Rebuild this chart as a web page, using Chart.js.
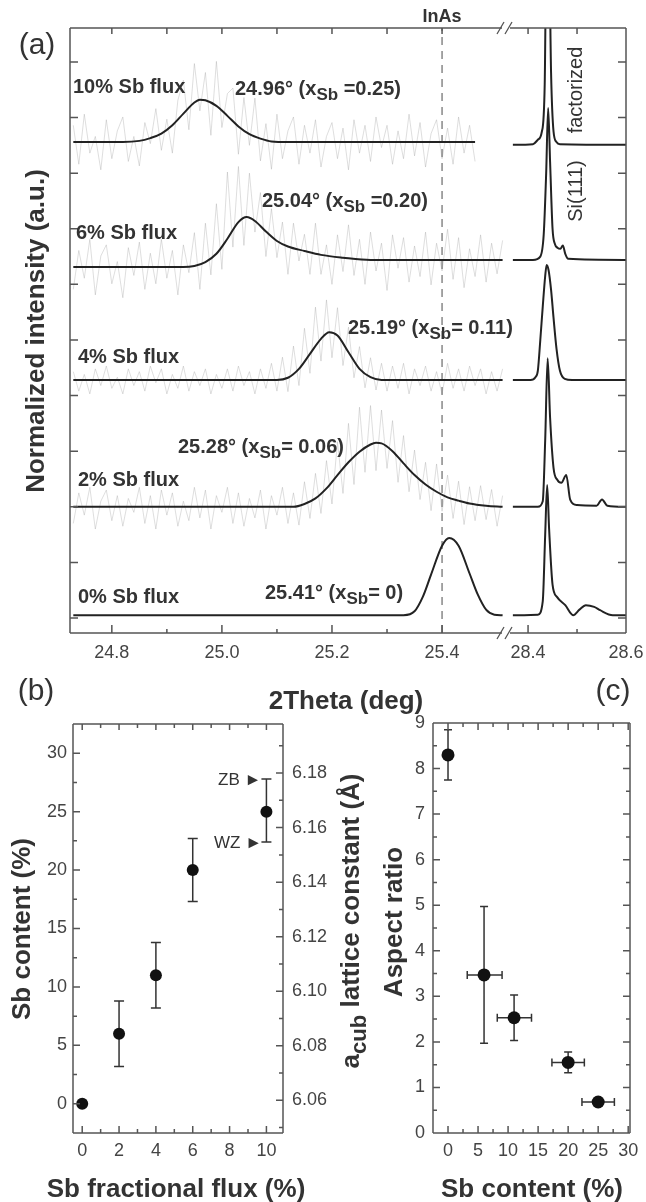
<!DOCTYPE html>
<html>
<head>
<meta charset="utf-8">
<script src="https://cdn.jsdelivr.net/npm/chart.js@4.4.1/dist/chart.umd.min.js"></script>
<style>
  body { margin: 0; background: #fff; }
  #fig { position: relative; width: 646px; height: 1202px; overflow: hidden;
         font-family: "Liberation Sans", Arial, sans-serif; color: #333; }
  canvas { position: absolute; }
  .t { position: absolute; white-space: nowrap; line-height: 1; }
  .lab { font-size: 20px; font-weight: bold; transform: translateY(-50%); }
  .ctr { transform: translate(-50%, -50%); }
  .rot { transform: translate(-50%, -50%) rotate(-90deg); }
  .title { font-size: 26px; font-weight: bold; }
  .pan { font-size: 30px; }
  sub { font-size: 0.85em; vertical-align: -0.3em; line-height: 0; }
</style>
</head>
<body>
<div id="fig">
  <canvas id="a1" width="520" height="680" style="left:0;top:0"></canvas>
  <canvas id="a2" width="156" height="680" style="left:490px;top:0"></canvas>
  <canvas id="pb" width="370" height="512" style="left:0;top:690px"></canvas>
  <canvas id="pc" width="276" height="512" style="left:370px;top:690px"></canvas>

  <div class="t pan ctr" style="left:37px;top:44px">(a)</div>
  <div class="t ctr" style="left:442px;top:16px;font-size:18px;font-weight:bold">InAs</div>
  <div class="t rot" style="left:575px;top:90px;font-size:20px">factorized</div>
  <div class="t rot" style="left:575px;top:191px;font-size:20px">Si(111)</div>
  <div class="t title rot" style="left:35px;top:331px">Normalized intensity (a.u.)</div>
  <div class="t title ctr" style="left:346px;top:700px">2Theta (deg)</div>

  <div class="t lab" style="left:73px;top:86px">10% Sb flux</div>
  <div class="t lab" style="left:235px;top:88px">24.96° (x<sub>Sb</sub> =0.25)</div>
  <div class="t lab" style="left:76px;top:232px">6% Sb flux</div>
  <div class="t lab" style="left:262px;top:200px">25.04° (x<sub>Sb</sub> =0.20)</div>
  <div class="t lab" style="left:78px;top:356px">4% Sb flux</div>
  <div class="t lab" style="left:348px;top:327px">25.19° (x<sub>Sb</sub>= 0.11)</div>
  <div class="t lab" style="left:78px;top:479px">2% Sb flux</div>
  <div class="t lab" style="left:178px;top:446px">25.28° (x<sub>Sb</sub>= 0.06)</div>
  <div class="t lab" style="left:78px;top:596px">0% Sb flux</div>
  <div class="t lab" style="left:265px;top:592px">25.41° (x<sub>Sb</sub>= 0)</div>

  <div class="t pan ctr" style="left:36px;top:690px">(b)</div>
  <div class="t pan ctr" style="left:613px;top:690px">(c)</div>
  <div class="t title rot" style="left:21px;top:929px">Sb content (%)</div>
  <div class="t title rot" style="left:350px;top:921px">a<sub>cub</sub> lattice constant (Å)</div>
  <div class="t title rot" style="left:393px;top:922px">Aspect ratio</div>
  <div class="t title ctr" style="left:176px;top:1188px">Sb fractional flux (%)</div>
  <div class="t title ctr" style="left:532px;top:1188px">Sb content (%)</div>
  <div class="t" style="left:218px;top:779px;font-size:17px;transform:translateY(-50%)">ZB ►</div>
  <div class="t" style="left:214px;top:842px;font-size:17px;transform:translateY(-50%)">WZ ►</div>
</div>

<script>
// ---- panel (a): fitted curves, left segment (2theta in deg, intensity in offset units)
const fit10X = [24.73, 24.82, 24.85, 24.87, 24.89, 24.91, 24.93, 24.95, 24.96, 24.97, 24.99, 25.01, 25.03, 25.05, 25.07, 25.09, 25.12, 25.46];
const fit10Y = [8.56, 8.56, 8.58, 8.63, 8.71, 8.86, 9.07, 9.27, 9.32, 9.31, 9.21, 9.03, 8.84, 8.70, 8.62, 8.57, 8.56, 8.56];
const fit6X = [24.73, 24.93, 24.95, 24.97, 24.99, 25.01, 25.03, 25.045, 25.06, 25.08, 25.10, 25.12, 25.15, 25.18, 25.22, 25.27, 25.51];
const fit6Y = [6.31, 6.31, 6.33, 6.40, 6.55, 6.82, 7.12, 7.21, 7.14, 6.95, 6.78, 6.68, 6.60, 6.53, 6.48, 6.44, 6.44];
const fit4X = [24.73, 25.10, 25.12, 25.14, 25.16, 25.18, 25.195, 25.21, 25.23, 25.25, 25.27, 25.29, 25.51];
const fit4Y = [4.28, 4.28, 4.32, 4.48, 4.75, 5.02, 5.14, 5.08, 4.78, 4.48, 4.33, 4.28, 4.28];
const fit2X = [24.73, 25.13, 25.15, 25.17, 25.19, 25.21, 25.23, 25.25, 25.27, 25.28, 25.29, 25.31, 25.33, 25.35, 25.37, 25.39, 25.41, 25.43, 25.45, 25.48, 25.51];
const fit2Y = [2.0, 2.0, 2.05, 2.15, 2.33, 2.57, 2.80, 2.99, 3.12, 3.15, 3.14, 3.00, 2.78, 2.57, 2.40, 2.27, 2.17, 2.11, 2.06, 2.02, 2.0];
const fit0X = [24.73, 25.33, 25.35, 25.365, 25.38, 25.40, 25.413, 25.43, 25.45, 25.465, 25.48, 25.495, 25.51];
const fit0Y = [0.05, 0.05, 0.12, 0.38, 0.78, 1.3, 1.44, 1.3, 0.8, 0.42, 0.15, 0.06, 0.05];

// ---- panel (a): raw scans (grey)
const rawX = [24.73, 24.74, 24.75, 24.76, 24.77, 24.78, 24.79, 24.80, 24.81, 24.82,
  24.83, 24.84, 24.85, 24.86, 24.87, 24.88, 24.89, 24.90, 24.91, 24.92,
  24.93, 24.94, 24.95, 24.96, 24.97, 24.98, 24.99, 25.00, 25.01, 25.02,
  25.03, 25.04, 25.05, 25.06, 25.07, 25.08, 25.09, 25.10, 25.11, 25.12,
  25.13, 25.14, 25.15, 25.16, 25.17, 25.18, 25.19, 25.20, 25.21, 25.22,
  25.23, 25.24, 25.25, 25.26, 25.27, 25.28, 25.29, 25.30, 25.31, 25.32,
  25.33, 25.34, 25.35, 25.36, 25.37, 25.38, 25.39, 25.40, 25.41, 25.42,
  25.43, 25.44, 25.45, 25.46, 25.47, 25.48, 25.49, 25.50, 25.51];
const raw10 = [8.86, 8.16, 9.06, 8.36, 8.66, 8.06, 8.96, 8.26, 8.76, 9.01,
  8.21, 8.66, 8.13, 8.91, 8.53, 9.16, 8.41, 8.97, 8.36, 9.31,
  9.67, 8.78, 9.97, 9.12, 9.81, 8.68, 10.01, 8.82, 9.43, 9.53,
  8.34, 9.36, 8.50, 9.35, 8.22, 8.89, 8.07, 9.06, 8.26, 8.76,
  9.01, 8.16, 8.86, 8.36, 8.96, 8.11, 8.66, 8.91, 8.26, 8.81,
  8.06, 8.96, 8.36, 8.86, 8.21, 9.01, 8.46, 8.86, 8.16, 8.76,
  8.26, 9.06, 8.31, 8.91, 8.11, 8.71, 8.96, 8.26, 8.81, 8.16,
  9.01, 8.36, 8.86, 8.21];
const raw6 = [5.91, 6.61, 6.11, 6.81, 5.81, 6.51, 6.71, 6.01, 6.41, 5.76,
  6.66, 6.16, 6.76, 5.91, 6.56, 6.01, 6.81, 6.11, 6.61, 5.81,
  6.71, 6.21, 6.93, 5.91, 7.10, 6.17, 7.45, 6.27, 8.02, 6.67,
  8.12, 6.70, 8.00, 6.94, 7.65, 6.50, 7.36, 6.48, 7.12, 6.18,
  7.10, 6.42, 6.90, 6.18, 7.10, 6.18, 6.71, 6.00, 6.89, 6.23,
  7.07, 6.16, 6.81, 6.00, 6.94, 6.24, 6.74, 5.89, 6.89, 6.29,
  6.84, 6.04, 6.69, 6.14, 6.94, 5.99, 6.74, 6.24, 6.99, 6.09,
  6.84, 5.94, 6.64, 6.14, 6.89, 6.04, 6.74, 6.19, 6.79];
const raw4 = [4.43, 4.08, 4.38, 4.03, 4.48, 4.18, 4.53, 4.13, 4.33, 4.03,
  4.48, 4.18, 4.43, 4.08, 4.53, 4.23, 4.48, 4.03, 4.38, 4.13,
  4.53, 4.08, 4.43, 4.18, 4.48, 4.03, 4.38, 4.13, 4.48, 4.08,
  4.53, 4.18, 4.43, 4.03, 4.48, 4.13, 4.58, 4.08, 4.69, 4.07,
  4.89, 4.18, 5.21, 4.40, 5.59, 4.62, 5.72, 4.68, 5.58, 4.54,
  5.23, 4.32, 4.88, 4.14, 4.68, 4.10, 4.58, 4.08, 4.53, 4.13,
  4.58, 4.03, 4.48, 4.18, 4.53, 4.08, 4.43, 4.03, 4.58, 4.13,
  4.48, 4.08, 4.53, 4.18, 4.48, 4.03, 4.43, 4.08, 4.48];
const raw2 = [1.70, 2.25, 1.85, 2.35, 1.60, 2.10, 2.30, 1.75, 2.20, 1.65,
  2.15, 1.90, 2.35, 1.70, 2.20, 1.60, 2.30, 1.85, 2.25, 1.65,
  2.10, 1.75, 2.35, 1.80, 2.30, 1.60, 2.20, 1.90, 2.35, 1.70,
  2.25, 1.65, 2.15, 1.80, 2.30, 1.60, 2.20, 1.85, 2.35, 1.70,
  2.25, 1.67, 2.45, 1.79, 2.60, 1.88, 2.83, 2.05, 3.17, 2.24,
  3.50, 2.40, 3.79, 2.62, 3.82, 2.65, 3.74, 2.69, 3.55, 2.44,
  3.28, 2.27, 3.02, 2.13, 2.80, 1.93, 2.77, 1.92, 2.57, 1.79,
  2.46, 1.68, 2.36, 1.75, 2.38, 1.77, 2.31, 1.65, 2.20];

// ---- panel (a): Si(111) segment
const si10X = [28.369, 28.41, 28.42, 28.428, 28.434, 28.438, 28.442, 28.447, 28.452, 28.458, 28.465, 28.6];
const si10Y = [8.51, 8.52, 8.6, 8.74, 9.6, 12.5, 12.5, 9.8, 8.75, 8.56, 8.52, 8.51];
const si6X = [28.369, 28.41, 28.425, 28.432, 28.437, 28.441, 28.445, 28.45, 28.455, 28.46, 28.466, 28.471, 28.476, 28.482, 28.6];
const si6Y = [6.44, 6.44, 6.5, 6.9, 8.0, 9.17, 8.2, 7.0, 6.72, 6.66, 6.64, 6.7, 6.55, 6.46, 6.44];
const si4X = [28.369, 28.405, 28.415, 28.42, 28.425, 28.43, 28.435, 28.438, 28.442, 28.447, 28.452, 28.458, 28.465, 28.475, 28.49, 28.6];
const si4Y = [4.28, 4.28, 4.33, 4.45, 5.0, 5.6, 6.15, 6.35, 6.25, 5.9, 5.4, 4.85, 4.45, 4.3, 4.28, 4.28];
const si2X = [28.369, 28.42, 28.43, 28.435, 28.44, 28.445, 28.452, 28.46, 28.468, 28.478, 28.486, 28.5, 28.54, 28.551, 28.562, 28.6];
const si2Y = [2.0, 2.0, 2.1, 3.2, 4.67, 3.6, 2.7, 2.48, 2.43, 2.57, 2.13, 2.03, 2.02, 2.13, 2.02, 2.0];
const si0X = [28.369, 28.42, 28.43, 28.435, 28.439, 28.443, 28.45, 28.459, 28.476, 28.492, 28.505, 28.518, 28.535, 28.547, 28.573, 28.6];
const si0Y = [0.05, 0.06, 0.3, 1.5, 2.39, 1.6, 0.6, 0.38, 0.23, 0.05, 0.15, 0.23, 0.2, 0.14, 0.05, 0.05];

const inasPos = 25.4;
const aTicksLeft = [24.8, 25.0, 25.2, 25.4];
const aMinorLeft = [24.9, 25.1, 25.3];
const aTopLeft = [24.8, 24.9, 25.0, 25.1, 25.2, 25.3, 25.4];
const aTicksRight = [28.4, 28.6];
const aMinorRight = [28.5];
const aYTicks = [0, 1, 2, 3, 4, 5, 6, 7, 8, 9, 10];

// ---- panel (b)
const bFlux = [0, 2, 4, 6, 10];
const bSb = [0, 6, 11, 20, 25];
const bSbLo = [null, 3.2, 8.2, 17.3, 22.4];
const bSbHi = [null, 8.8, 13.8, 22.7, 27.8];
const bXTicks = [0, 2, 4, 6, 8, 10];
const bXMinor = [1, 3, 5, 7, 9];
const bYTicks = [0, 5, 10, 15, 20, 25, 30];
const bYMinor = [-2.5, 2.5, 7.5, 12.5, 17.5, 22.5, 27.5, 32.5];
const bY2Ticks = [6.06, 6.08, 6.10, 6.12, 6.14, 6.16, 6.18];
const bY2Minor = [6.05, 6.07, 6.09, 6.11, 6.13, 6.15, 6.17, 6.19];

// ---- panel (c)
const cSb = [0, 6, 11, 20, 25];
const cRatio = [8.3, 3.47, 2.53, 1.55, 0.68];
const cRatioLo = [7.75, 1.97, 2.03, 1.32, null];
const cRatioHi = [8.85, 4.97, 3.03, 1.78, null];
const cSbLo = [null, 3.2, 8.2, 17.3, 22.3];
const cSbHi = [null, 9.0, 13.9, 22.7, 27.7];
const cXTicks = [0, 5, 10, 15, 20, 25, 30];
const cXMinor = [2.5, 7.5, 12.5, 17.5, 22.5, 27.5];
const cYTicks = [0, 1, 2, 3, 4, 5, 6, 7, 8, 9];
const cYMinor = [0.5, 1.5, 2.5, 3.5, 4.5, 5.5, 6.5, 7.5, 8.5];

const FONT = "'Liberation Sans', Arial, sans-serif";
const tickFont = { family: FONT, size: 18 };
const zip = (xs, ys) => xs.map((x, i) => ({ x, y: ys[i] }));

// frame box + inward tick marks drawn through the chart scales
const frameTicks = {
  id: 'frameTicks',
  afterDatasetsDraw(chart, args, o) {
    const { ctx, chartArea: a } = chart;
    ctx.save();
    ctx.strokeStyle = '#555';
    ctx.lineWidth = 1.5;
    ctx.beginPath();
    if (o.sides.includes('top')) { ctx.moveTo(a.left, a.top); ctx.lineTo(a.right, a.top); }
    if (o.sides.includes('bottom')) { ctx.moveTo(a.left, a.bottom); ctx.lineTo(a.right, a.bottom); }
    if (o.sides.includes('left')) { ctx.moveTo(a.left, a.top); ctx.lineTo(a.left, a.bottom); }
    if (o.sides.includes('right')) { ctx.moveTo(a.right, a.top); ctx.lineTo(a.right, a.bottom); }
    (o.marks || []).forEach(m => {
      const s = chart.scales[m.scale];
      m.values.forEach(v => {
        const p = s.getPixelForValue(v);
        if (m.side === 'bottom') { ctx.moveTo(p, a.bottom); ctx.lineTo(p, a.bottom - m.len); }
        if (m.side === 'top') { ctx.moveTo(p, a.top); ctx.lineTo(p, a.top + m.len); }
        if (m.side === 'left') { ctx.moveTo(a.left, p); ctx.lineTo(a.left + m.len, p); }
        if (m.side === 'right') { ctx.moveTo(a.right, p); ctx.lineTo(a.right - m.len, p); }
      });
    });
    ctx.stroke();
    ctx.restore();
  }
};

const errorBars = {
  id: 'errorBars',
  beforeDatasetsDraw(chart, args, o) {
    const { ctx } = chart;
    const xs = chart.scales.x, ys = chart.scales.y;
    ctx.save();
    ctx.strokeStyle = '#333';
    ctx.lineWidth = 1.5;
    ctx.beginPath();
    o.x.forEach((xv, i) => {
      const px = xs.getPixelForValue(xv), py = ys.getPixelForValue(o.y[i]);
      if (o.yLo && o.yLo[i] != null) {
        const p1 = ys.getPixelForValue(o.yLo[i]), p2 = ys.getPixelForValue(o.yHi[i]);
        ctx.moveTo(px, p1); ctx.lineTo(px, p2);
        ctx.moveTo(px - o.cap, p1); ctx.lineTo(px + o.cap, p1);
        ctx.moveTo(px - o.cap, p2); ctx.lineTo(px + o.cap, p2);
      }
      if (o.xLo && o.xLo[i] != null) {
        const q1 = xs.getPixelForValue(o.xLo[i]), q2 = xs.getPixelForValue(o.xHi[i]);
        ctx.moveTo(q1, py); ctx.lineTo(q2, py);
        ctx.moveTo(q1, py - o.cap); ctx.lineTo(q1, py + o.cap);
        ctx.moveTo(q2, py - o.cap); ctx.lineTo(q2, py + o.cap);
      }
    });
    ctx.stroke();
    ctx.restore();
  }
};

// "//" marks where the 2theta axis is broken
const axisBreak = {
  id: 'axisBreak',
  afterDraw(chart) {
    const { ctx, chartArea: a } = chart;
    const x = a.left;
    ctx.save();
    [a.top, a.bottom].forEach(y => {
      ctx.fillStyle = '#fff';
      ctx.fillRect(x - 5, y - 3, 8, 6);
      ctx.strokeStyle = '#555';
      ctx.lineWidth = 1.3;
      ctx.beginPath();
      ctx.moveTo(x - 10, y + 6); ctx.lineTo(x - 3, y - 6);
      ctx.moveTo(x - 2, y + 6); ctx.lineTo(x + 5, y - 6);
      ctx.stroke();
    });
    ctx.restore();
  }
};

const fixTicks = arr => s => { s.ticks = arr.map(v => ({ value: v })); };
const fitBox = (w, h) => s => {
  if (w != null) s.width = w;
  if (h != null) s.height = h;
  s.paddingLeft = 0; s.paddingRight = 0; s.paddingTop = 0; s.paddingBottom = 0;
};
const noGrid = { display: false, drawTicks: false };
const noBorder = { display: false };

const fitStyle = { borderColor: '#222', borderWidth: 2, pointRadius: 0, cubicInterpolationMode: 'monotone', fill: false };
const rawStyle = { borderColor: 'rgba(160,160,160,0.35)', borderWidth: 1, pointRadius: 0, tension: 0, fill: false };

const baseOpts = {
  responsive: false,
  animation: false,
  devicePixelRatio: 1,
  events: [],
};

// ---- (a) left segment
new Chart(document.getElementById('a1'), {
  type: 'line',
  data: {
    datasets: [
      { ...fitStyle, data: zip(fit10X, fit10Y) },
      { ...fitStyle, data: zip(fit6X, fit6Y) },
      { ...fitStyle, data: zip(fit4X, fit4Y) },
      { ...fitStyle, data: zip(fit2X, fit2Y) },
      { ...fitStyle, data: zip(fit0X, fit0Y) },
      { borderColor: '#888', borderWidth: 1.5, borderDash: [8, 6], pointRadius: 0,
        data: [{ x: inasPos, y: -0.27 }, { x: inasPos, y: 10.61 }] },
      { ...rawStyle, data: zip(rawX.slice(0, raw10.length), raw10) },
      { ...rawStyle, data: zip(rawX, raw6) },
      { ...rawStyle, data: zip(rawX, raw4) },
      { ...rawStyle, data: zip(rawX, raw2) },
    ]
  },
  options: {
    ...baseOpts,
    layout: { padding: { top: 28, right: 13, left: 0, bottom: 0 } },
    plugins: {
      legend: { display: false }, tooltip: { enabled: false },
      frameTicks: {
        sides: ['top', 'bottom', 'left'],
        marks: [
          { scale: 'x', side: 'bottom', values: aTicksLeft, len: 8 },
          { scale: 'x', side: 'bottom', values: aMinorLeft, len: 4 },
          { scale: 'x', side: 'top', values: aTopLeft, len: 6 },
          { scale: 'y', side: 'left', values: aYTicks, len: 8 },
        ]
      }
    },
    scales: {
      x: {
        type: 'linear', min: 24.724, max: 25.518,
        grid: noGrid, border: noBorder,
        ticks: { font: tickFont, color: '#444', padding: 9, callback: v => v.toFixed(1) },
        afterBuildTicks: fixTicks(aTicksLeft),
        afterFit: fitBox(null, 47)
      },
      y: {
        type: 'linear', min: -0.27, max: 10.61,
        grid: noGrid, border: noBorder, ticks: { display: false },
        afterFit: fitBox(70, null)
      }
    }
  },
  plugins: [frameTicks]
});

// ---- (a) right segment, Si(111)
new Chart(document.getElementById('a2'), {
  type: 'line',
  data: {
    datasets: [
      { ...fitStyle, data: zip(si10X, si10Y) },
      { ...fitStyle, data: zip(si6X, si6Y) },
      { ...fitStyle, data: zip(si4X, si4Y) },
      { ...fitStyle, data: zip(si2X, si2Y) },
      { ...fitStyle, data: zip(si0X, si0Y) },
    ]
  },
  options: {
    ...baseOpts,
    layout: { padding: { top: 28, right: 20, left: 17, bottom: 0 } },
    plugins: {
      legend: { display: false }, tooltip: { enabled: false },
      frameTicks: {
        sides: ['top', 'bottom', 'right'],
        marks: [
          { scale: 'x', side: 'bottom', values: aTicksRight, len: 8 },
          { scale: 'x', side: 'bottom', values: aMinorRight, len: 4 },
          { scale: 'x', side: 'top', values: [28.4, 28.5], len: 6 },
          { scale: 'y', side: 'right', values: aYTicks, len: 8 },
        ]
      }
    },
    scales: {
      x: {
        type: 'linear', min: 28.357, max: 28.6,
        grid: noGrid, border: noBorder,
        ticks: { font: tickFont, color: '#444', padding: 9, callback: v => v.toFixed(1) },
        afterBuildTicks: fixTicks(aTicksRight),
        afterFit: fitBox(null, 47)
      },
      y: { type: 'linear', min: -0.27, max: 10.61, display: false }
    }
  },
  plugins: [frameTicks, axisBreak]
});

// ---- (b) Sb content vs flux
new Chart(document.getElementById('pb'), {
  type: 'scatter',
  data: {
    datasets: [{ data: zip(bFlux, bSb), pointRadius: 6, pointBackgroundColor: '#111', pointBorderWidth: 0, yAxisID: 'y' }]
  },
  options: {
    ...baseOpts,
    layout: { padding: { top: 34, right: 0, left: 0, bottom: 0 } },
    plugins: {
      legend: { display: false }, tooltip: { enabled: false },
      errorBars: { x: bFlux, y: bSb, yLo: bSbLo, yHi: bSbHi, cap: 5 },
      frameTicks: {
        sides: ['top', 'bottom', 'left', 'right'],
        marks: [
          { scale: 'x', side: 'bottom', values: bXTicks, len: 7 },
          { scale: 'x', side: 'bottom', values: bXMinor, len: 4 },
          { scale: 'x', side: 'top', values: bXTicks, len: 6 },
          { scale: 'x', side: 'top', values: bXMinor, len: 4 },
          { scale: 'y', side: 'left', values: bYTicks, len: 7 },
          { scale: 'y', side: 'left', values: bYMinor, len: 4 },
          { scale: 'y2', side: 'right', values: bY2Ticks, len: 7 },
          { scale: 'y2', side: 'right', values: bY2Minor, len: 4 },
        ]
      }
    },
    scales: {
      x: {
        type: 'linear', min: -0.5, max: 10.9,
        grid: noGrid, border: noBorder,
        ticks: { font: tickFont, color: '#444', padding: 7 },
        afterBuildTicks: fixTicks(bXTicks),
        afterFit: fitBox(null, 69)
      },
      y: {
        type: 'linear', min: -2.5, max: 32.5,
        grid: noGrid, border: noBorder,
        ticks: { font: tickFont, color: '#444', padding: 6 },
        afterBuildTicks: fixTicks(bYTicks),
        afterFit: fitBox(73, null)
      },
      y2: {
        type: 'linear', position: 'right', min: 6.048, max: 6.198,
        grid: noGrid, border: noBorder,
        ticks: { font: tickFont, color: '#444', padding: 9, callback: v => v.toFixed(2) },
        afterBuildTicks: fixTicks(bY2Ticks),
        afterFit: fitBox(87, null)
      }
    }
  },
  plugins: [errorBars, frameTicks]
});

// ---- (c) aspect ratio vs Sb content
new Chart(document.getElementById('pc'), {
  type: 'scatter',
  data: {
    datasets: [{ data: zip(cSb, cRatio), pointRadius: 6.5, pointBackgroundColor: '#111', pointBorderWidth: 0 }]
  },
  options: {
    ...baseOpts,
    layout: { padding: { top: 33, right: 16, left: 0, bottom: 0 } },
    plugins: {
      legend: { display: false }, tooltip: { enabled: false },
      errorBars: { x: cSb, y: cRatio, yLo: cRatioLo, yHi: cRatioHi, xLo: cSbLo, xHi: cSbHi, cap: 4 },
      frameTicks: {
        sides: ['top', 'bottom', 'left', 'right'],
        marks: [
          { scale: 'x', side: 'bottom', values: cXTicks, len: 7 },
          { scale: 'x', side: 'bottom', values: cXMinor, len: 4 },
          { scale: 'x', side: 'top', values: cXTicks, len: 7 },
          { scale: 'x', side: 'top', values: cXMinor, len: 4 },
          { scale: 'y', side: 'left', values: cYTicks, len: 7 },
          { scale: 'y', side: 'left', values: cYMinor, len: 4 },
          { scale: 'y', side: 'right', values: cYTicks, len: 7 },
          { scale: 'y', side: 'right', values: cYMinor, len: 4 },
        ]
      }
    },
    scales: {
      x: {
        type: 'linear', min: -2.5, max: 30.3,
        grid: noGrid, border: noBorder,
        ticks: { font: tickFont, color: '#444', padding: 7 },
        afterBuildTicks: fixTicks(cXTicks),
        afterFit: fitBox(null, 69)
      },
      y: {
        type: 'linear', min: 0, max: 9,
        grid: noGrid, border: noBorder,
        ticks: { font: tickFont, color: '#444', padding: 8 },
        afterBuildTicks: fixTicks(cYTicks),
        afterFit: fitBox(63, null)
      }
    }
  },
  plugins: [errorBars, frameTicks]
});
</script>
</body>
</html>
